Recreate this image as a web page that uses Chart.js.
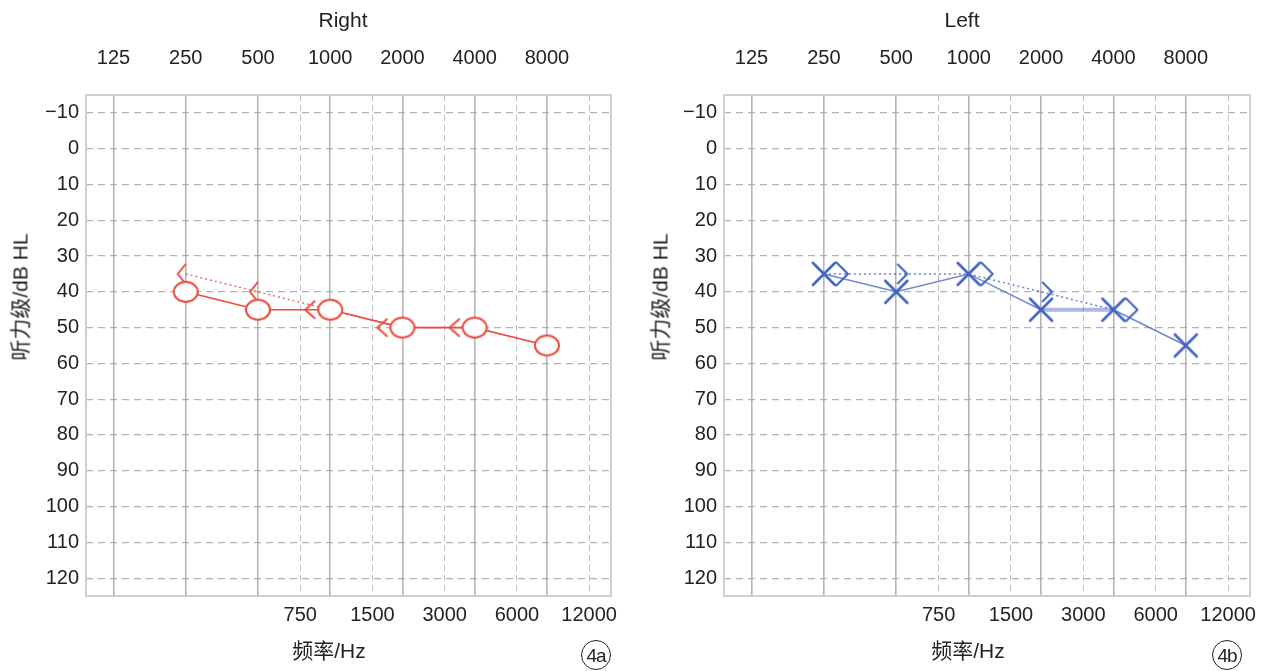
<!DOCTYPE html>
<html><head><meta charset="utf-8">
<script src="https://cdn.jsdelivr.net/npm/chart.js@4"></script>
<style>
body{margin:0;background:#fff;width:1265px;height:671px;overflow:hidden;position:relative;font-family:"Liberation Sans",Arial,"Noto Sans CJK SC",sans-serif;color:#222}
canvas{position:absolute;top:0}
.t{position:absolute;white-space:nowrap;transform:translate(-50%,-50%);line-height:1}
.rot{transform:translate(-50%,-50%) rotate(-90deg)}
.circ{position:absolute;width:28px;height:28px;border:1.3px solid #222;border-radius:50%;transform:translate(-50%,-50%);display:flex;align-items:center;justify-content:center}
.circ span{font-size:19px;line-height:1;letter-spacing:-1px;margin-top:1px}
</style></head><body>
<canvas id="cR" width="640" height="671" style="left:0"></canvas>
<canvas id="cL" width="625" height="671" style="left:640px"></canvas>
<div class="t" style="left:343px;top:19px;font-size:21px">Right</div>
<div class="t" style="left:962px;top:19px;font-size:21px">Left</div>
<div class="t rot" style="left:20px;top:297px;font-size:21px">听力级/dB HL</div>
<div class="t rot" style="left:660px;top:297px;font-size:21px">听力级/dB HL</div>
<div class="t" style="left:329px;top:650px;font-size:21px">频率/Hz</div>
<div class="t" style="left:968px;top:650px;font-size:21px">频率/Hz</div>
<div class="circ" style="left:596px;top:655px"><span>4a</span></div>
<div class="circ" style="left:1227px;top:655px"><span>4b</span></div>
<script>
// ---- data ----
const octaveTicks = [125, 250, 500, 1000, 2000, 4000, 8000];
const halfOctaveTicks = [750, 1500, 3000, 6000, 12000];
const dbTicks = [-10, 0, 10, 20, 30, 40, 50, 60, 70, 80, 90, 100, 110, 120];
const testFreqs = [250, 500, 1000, 2000, 4000, 8000];
const rightAir = [40, 45, 45, 50, 50, 55];
const rightBoneFreqs = [250, 500, 1000, 2000, 4000];
const rightBone = [35, 40, 45, 50, 50];
const leftAir = [35, 40, 35, 45, 45, 55];
const leftBoneFreqs = [250, 500, 1000, 2000, 4000];
const leftBone = [35, 35, 35, 40, 45];

// ---- styles ----
const RED = 'rgb(238,74,62)';
const BLUE = 'rgb(66,98,196)';
const FONT = '"Liberation Sans", Arial, sans-serif';

function mk(w, h, draw) {
  const c = document.createElement('canvas');
  c.width = w; c.height = h;
  draw(c.getContext('2d'));
  return c;
}
const circleMk = mk(28, 24, g => {
  g.beginPath(); g.ellipse(14, 12, 12, 10, 0, 0, Math.PI * 2);
  g.fillStyle = '#fff'; g.fill();
  g.strokeStyle = RED; g.lineWidth = 2; g.stroke();
});
const crossMk = mk(28, 28, g => {
  g.strokeStyle = BLUE; g.lineWidth = 2.6; g.lineCap = 'round';
  g.beginPath(); g.moveTo(3, 3); g.lineTo(25, 25); g.moveTo(25, 3); g.lineTo(3, 25); g.stroke();
});
// bracket: apex and arm offsets relative to point centre
function bracket(apex, arm, half, color) {
  const w = 2 * Math.max(Math.abs(apex), Math.abs(arm)) + 6, cx = w / 2, h = 2 * half + 4, cy = h / 2;
  return mk(w, h, g => {
    g.strokeStyle = color; g.lineWidth = 2; g.lineJoin = 'round';
    g.beginPath(); g.moveTo(cx + arm, cy - half); g.lineTo(cx + apex, cy); g.lineTo(cx + arm, cy + half); g.stroke();
  });
}
const ltNear = bracket(-8, 0, 10, RED);
const ltFar = bracket(-25, -15, 9, RED);
const gtNear = bracket(11, 1, 10, BLUE);
const gtFar = bracket(24, 12, 12, BLUE);

const framePlugin = {
  id: 'frame',
  beforeDatasetsDraw(chart) {
    const a = chart.chartArea, c = chart.ctx;
    c.save(); c.strokeStyle = '#cfcfcf'; c.lineWidth = 2;
    c.strokeRect(a.left, a.top, a.right - a.left, a.bottom - a.top);
    c.restore();
  }
};

function pts(xs, ys) { return xs.map((x, i) => ({ x: x, y: ys[i] })); }

function makeChart(id, yWidth, padRight, datasets) {
  return new Chart(document.getElementById(id), {
    type: 'line',
    data: { datasets: datasets },
    plugins: [framePlugin],
    options: {
      responsive: false, animation: false,
      layout: { padding: { left: 0, right: padRight, top: 0, bottom: 0 } },
      plugins: { legend: { display: false }, tooltip: { enabled: false } },
      scales: {
        x: {
          type: 'logarithmic', position: 'top', min: 96, max: 14800,
          afterBuildTicks: s => { s.ticks = octaveTicks.map(v => ({ value: v })); },
          afterFit: s => { s.height = 95; },
          ticks: { autoSkip: false, maxRotation: 0, padding: 25, color: '#222', font: { family: FONT, size: 20 }, callback: v => String(v) },
          grid: { drawTicks: false, color: 'rgba(150,150,150,0.7)', lineWidth: 1.6 },
          border: { display: false }
        },
        x2: {
          type: 'logarithmic', position: 'bottom', min: 96, max: 14800,
          afterBuildTicks: s => { s.ticks = halfOctaveTicks.map(v => ({ value: v })); },
          afterFit: s => { s.height = 75; },
          ticks: { autoSkip: false, maxRotation: 0, padding: 7, color: '#222', font: { family: FONT, size: 20 }, callback: v => String(v) },
          grid: { drawTicks: false, color: 'rgba(170,170,170,0.75)', lineWidth: 1 },
          border: { display: false, dash: [6, 4] }
        },
        y: {
          type: 'linear', reverse: true, min: -15, max: 125,
          afterBuildTicks: s => { s.ticks = dbTicks.map(v => ({ value: v })); },
          afterFit: s => { s.width = yWidth; },
          ticks: { padding: 7, color: '#222', font: { family: FONT, size: 20 }, callback: v => (v < 0 ? '\u2212' + Math.abs(v) : String(v)) },
          grid: { drawTicks: false, color: 'rgba(160,160,160,0.8)', lineWidth: 1.2 },
          border: { display: false, dash: [7, 5] }
        }
      }
    }
  });
}

makeChart('cR', 86, 29, [
  { label: 'Right air', data: pts(testFreqs, rightAir), xAxisID: 'x', yAxisID: 'y', order: 0,
    borderColor: RED, borderWidth: 1.6, pointStyle: circleMk, pointRadius: 12 },
  { label: 'Right bone', data: pts(rightBoneFreqs, rightBone), xAxisID: 'x', yAxisID: 'y', order: 1,
    borderColor: 'rgba(238,74,62,0.8)', borderWidth: 1.5, borderDash: [2, 3],
    pointStyle: [ltNear, ltNear, ltFar, ltFar, ltFar], pointRadius: 10 }
]);

makeChart('cL', 84, 15, [
  { label: 'Left air', data: pts(testFreqs, leftAir), xAxisID: 'x', yAxisID: 'y', order: 0,
    borderColor: 'rgba(66,98,196,0.75)', borderWidth: 1.5,
    segment: { borderWidth: c => (c.p0.parsed.x === 2000 ? 4 : 1.5), borderColor: c => (c.p0.parsed.x === 2000 ? 'rgba(66,98,196,0.45)' : 'rgba(66,98,196,0.75)') },
    pointStyle: crossMk, pointRadius: 12 },
  { label: 'Left bone', data: pts(leftBoneFreqs, leftBone), xAxisID: 'x', yAxisID: 'y', order: 1,
    borderColor: 'rgba(66,98,196,0.8)', borderWidth: 1.5, borderDash: [2, 3],
    pointStyle: [gtFar, gtNear, gtFar, gtNear, gtFar], pointRadius: 10 }
]);
</script>
</body></html>
